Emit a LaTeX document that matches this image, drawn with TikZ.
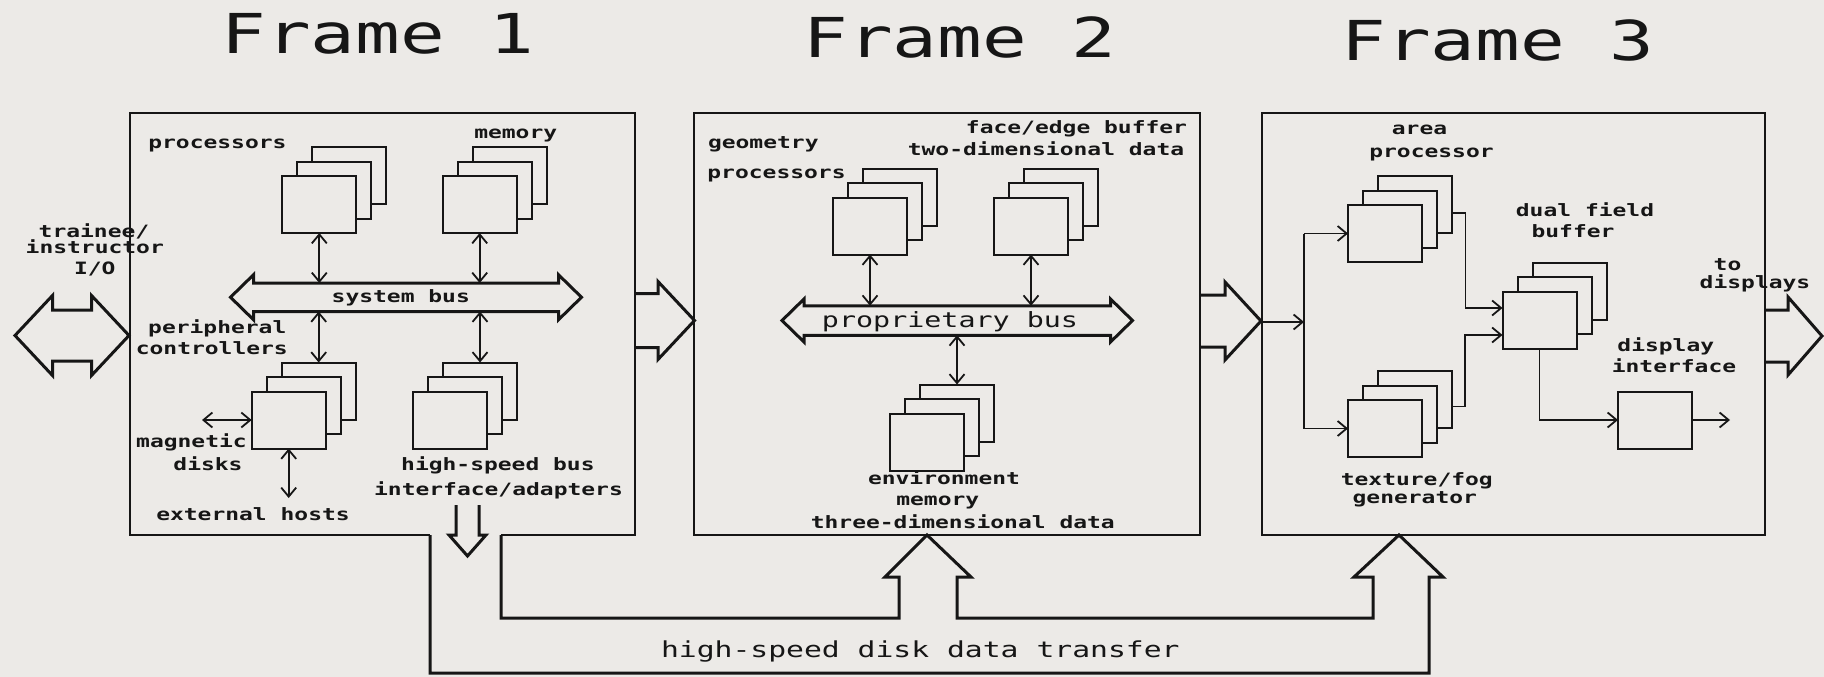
\documentclass[tikz,border=0pt]{standalone}
\usepackage{fontspec}
\usetikzlibrary{arrows.meta}
\newfontfamily\plotfont[FakeStretch=1.35]{DejaVu Sans Mono}
\definecolor{bg}{RGB}{236,234,231}
\definecolor{ink}{RGB}{22,22,22}
\tikzset{
  barb/.tip={Straight Barb[length=9pt,width=15pt]},
  card/.style={draw=ink, line width=2pt, fill=bg, minimum width=74pt, minimum height=57pt, inner sep=0pt, outer sep=0pt},
  framebox/.style={draw=ink, line width=2pt, inner sep=0pt, outer sep=0pt, minimum height=422pt},
  framepath/.style={draw=ink, line width=2pt, line join=miter},
  lbl/.style={inner sep=0pt, anchor=base, text=ink, font=\fontsize{17}{19}\selectfont\plotfont\bfseries},
  biglbl/.style={inner sep=0pt, anchor=base, text=ink, font=\fontsize{21}{24}\selectfont\plotfont},
  titlelbl/.style={inner sep=0pt, anchor=base, text=ink, font=\fontsize{55}{60}\selectfont\plotfont},
  conn/.style={draw=ink, line width=1.8pt, -barb},
  bidir/.style={draw=ink, line width=1.8pt, barb-barb},
  hollow/.style={draw=ink, line width=3pt, line join=miter, miter limit=10},
  busnode/.style={inner sep=0pt, outer sep=0pt},
}
% three stacked cards: name, x, y of the front card centre
\newcommand\cardstack[3]{%
  \node[card] (#1B) at (#2+30,#3-29) {};
  \node[card] (#1M) at (#2+15,#3-14.5) {};
  \node[card] (#1) at (#2,#3) {};}
% hollow double arrow: cx, cy, half length, head length, shaft half width, head half width
\newcommand\dblarrow[6]{%
  \draw[hollow] (#1-#3,#2) -- (#1-#3+#4,#2-#6) -- (#1-#3+#4,#2-#5) -- (#1+#3-#4,#2-#5)
    -- (#1+#3-#4,#2-#6) -- (#1+#3,#2) -- (#1+#3-#4,#2+#6) -- (#1+#3-#4,#2+#5)
    -- (#1-#3+#4,#2+#5) -- (#1-#3+#4,#2+#6) -- cycle;}
% hollow single arrow, open at its back: x start, x head back, x tip, cy, shaft half, head half
\newcommand\fatarrow[6]{%
  \draw[hollow] (#1,#4-#5) -- (#2,#4-#5) -- (#2,#4-#6) -- (#3,#4) -- (#2,#4+#6) -- (#2,#4+#5) -- (#1,#4+#5);}
\begin{document}
\begin{tikzpicture}[x=1pt,y=-1pt]
\fill[bg] (0,0) rectangle (1824,677);
\useasboundingbox (0,0) rectangle (1824,677);

% titles
\node[titlelbl] (t1) at (378,54) {Frame 1};
\node[titlelbl] (t2) at (960,58) {Frame 2};
\node[titlelbl] (t3) at (1498,60) {Frame 3};

% frames
\node[busnode, minimum width=505pt, minimum height=422pt] (F1) at (382.5,324) {};
\node[framebox, minimum width=506pt] (F2) at (947,324) {};
\node[framebox, minimum width=503pt] (F3) at (1513.5,324) {};
\coordinate (gapL) at (430,535);
\coordinate (gapR) at (501,535);
\draw[framepath] (gapL) -- (F1.south west) -- (F1.north west) -- (F1.north east) -- (F1.south east) -- (gapR);

% ---------- Frame 1 ----------
\dblarrow{72}{335.5}{57}{37.5}{25.5}{40}
\node[lbl] (ti1) at (94,237) {trainee/};
\node[lbl] (ti2) at (94.8,253) {instructor};
\node[lbl] (ti3) at (94.8,274) {I/O};

\cardstack{pr}{319.3}{204.5}
\cardstack{me}{479.7}{204.5}
\cardstack{pc}{288.7}{420}
\cardstack{hs}{450}{420}
\node[lbl] (lpr) at (217.4,148) {processors};
\node[lbl] (lme) at (515.7,139) {memory};

\node[busnode, minimum width=305pt, minimum height=28.5pt] (sb) at (406,297.25) {};
\dblarrow{406}{297.25}{175.5}{23}{14.25}{22.5}
\node[lbl] (lsb) at (400.8,302) {system bus};

\draw[bidir] (pr.south) -- (pr.south |- sb.north);
\draw[bidir] (me.south) -- (me.south |- sb.north);
\draw[bidir] (pcB.north |- sb.south) -- (pcB.north);
\draw[bidir] (hsB.north |- sb.south) -- (hsB.north);

\node[lbl] (lpc1) at (217.3,333) {peripheral};
\node[lbl] (lpc2) at (211.8,354) {controllers};
\coordinate (mdisk) at (202,420);
\draw[bidir] (mdisk) -- (pc.west);
\coordinate (ehost) at (288.7,498);
\draw[bidir] (pc.south) -- (ehost);
\node[lbl] (lmd1) at (191.5,447) {magnetic};
\node[lbl] (lmd2) at (208,470) {disks};
\node[lbl] (leh) at (253,520) {external hosts};
\node[lbl] (lhs1) at (497.9,470) {high-speed bus};
\node[lbl] (lhs2) at (498.5,495) {interface/adapters};

% down arrow in the gap
\draw[hollow] (456,505) -- (456,535) -- (449,535) -- (467.5,556) -- (486,535) -- (479,535) -- (479,505);

% arrows between frames
\fatarrow{635}{658}{694.5}{320.5}{27}{39}
\fatarrow{1200}{1225}{1261}{321}{26}{39}
\fatarrow{1765}{1788}{1822}{336}{26}{39}

% ---------- Frame 2 ----------
\node[lbl] (lge1) at (763.3,148) {geometry};
\node[lbl] (lge2) at (776.5,178) {processors};
\node[lbl] (lfe1) at (1076.5,133) {face/edge buffer};
\node[lbl] (lfe2) at (1046,155) {two-dimensional data};
\cardstack{ge}{870}{226}
\cardstack{fe}{1031}{226}
\cardstack{en}{927}{442}
\node[busnode, minimum width=306.5pt, minimum height=29.5pt] (pb) at (957.25,320.5) {};
\dblarrow{957.25}{320.5}{175.25}{22}{14.75}{21.5}
\node[biglbl] (lpb) at (950,327) {proprietary bus};
\draw[bidir] (ge.south) -- (ge.south |- pb.north);
\draw[bidir] (fe.south) -- (fe.south |- pb.north);
\draw[bidir] (enB.north |- pb.south) -- (enB.north);
\node[lbl] (len1) at (944,484) {environment};
\node[lbl] (len2) at (937.8,505) {memory};
\node[lbl] (len3) at (962.8,528) {three-dimensional data};

% ---------- Frame 3 ----------
\node[lbl] (lar1) at (1419.5,134) {area};
\node[lbl] (lar2) at (1431.5,157) {processor};
\node[lbl] (ldu1) at (1585,216) {dual field};
\node[lbl] (ldu2) at (1573,237) {buffer};
\node[lbl] (ldi1) at (1665.8,351) {display};
\node[lbl] (ldi2) at (1674,372) {interface};
\node[lbl] (ltx1) at (1416.8,485) {texture/fog};
\node[lbl] (ltx2) at (1414.8,503) {generator};
\node[lbl] (lto1) at (1727.5,270) {to};
\node[lbl] (lto2) at (1755,288) {displays};

\cardstack{ar}{1385}{233.5}
\cardstack{tx}{1385}{428.5}
\cardstack{du}{1539.5}{320}
\node[card] (di) at (1655,420) {};

\coordinate (in3) at (1304,322);
\draw[conn] (in3 -| F3.west) -- (in3);
\draw[ink, line width=1.8pt] (ar.west -| in3) -- (tx.west -| in3);
\draw[conn] (ar.west -| in3) -- (ar.west);
\draw[conn] (tx.west -| in3) -- (tx.west);
\draw[conn] ([yshift=-8.5pt]arB.east) -- ++(13.5,0) |- ([yshift=12pt]du.west);
\draw[conn] ([yshift=-7pt]txB.east) -- ++(13,0) |- ([yshift=-15pt]du.west);
\draw[conn] (du.south) |- (di.west);
\coordinate (dout) at (1730,420);
\draw[conn] (di.east) -- (dout);

% ---------- disk data transfer pipe ----------
\draw[hollow] (gapL) -- (430,673) -- (1429,673) -- (1429,577) -- (1443,577) -- (1399,535)
  -- (1354,577) -- (1373,577) -- (1373,618) -- (957,618) -- (957,577) -- (971,577)
  -- (927,535) -- (885,577) -- (899,577) -- (899,618) -- (501,618) -- (gapR);
\node[biglbl, font=\fontsize{22}{24}\selectfont\plotfont] (lhd) at (920.3,657) {high-speed disk data transfer};
\end{tikzpicture}
\end{document}
